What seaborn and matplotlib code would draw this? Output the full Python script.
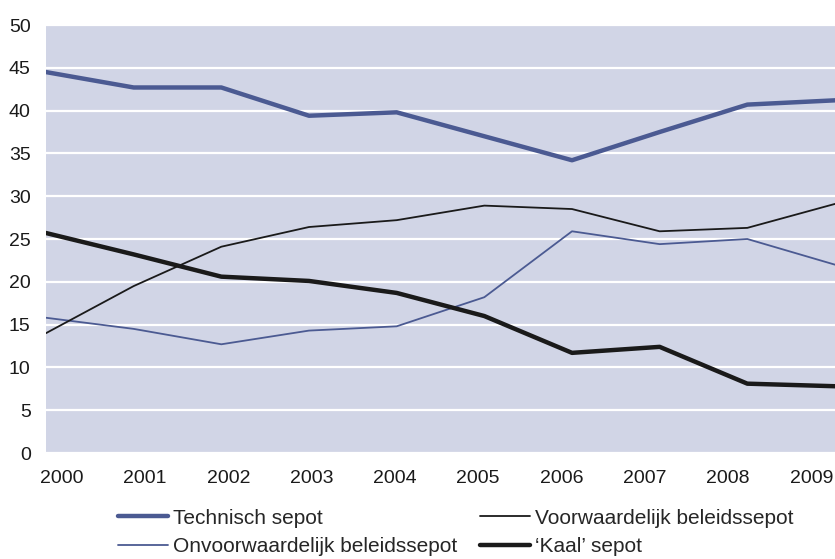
import numpy as np
import pandas as pd
import matplotlib
matplotlib.use("Agg")
import matplotlib.pyplot as plt
import seaborn as sns

years = [2000, 2001, 2002, 2003, 2004, 2005, 2006, 2007, 2008, 2009]
technisch = [44.5, 42.7, 42.7, 39.4, 39.8, 37.0, 34.2, 37.5, 40.7, 41.2]
voorwaardelijk = [14.0, 19.5, 24.1, 26.4, 27.2, 28.9, 28.5, 25.9, 26.3, 29.1]
onvoorwaardelijk = [15.8, 14.5, 12.7, 14.3, 14.8, 18.2, 25.9, 24.4, 25.0, 22.0]
kaal = [25.7, 23.2, 20.6, 20.1, 18.7, 16.0, 11.7, 12.4, 8.1, 7.8]

blue = "#4b5a92"
bg = "#d1d5e6"

df = pd.DataFrame({
    "jaar": years,
    "Technisch sepot": technisch,
    "Onvoorwaardelijk beleidssepot": onvoorwaardelijk,
    "Voorwaardelijk beleidssepot": voorwaardelijk,
    "'Kaal' sepot": kaal,
})

sns.set_style("white", {"axes.facecolor": bg})
plt.rcParams["font.family"] = ["Liberation Sans", "DejaVu Sans"]

fig = plt.figure(figsize=(8.35, 5.59), dpi=100)
ax = fig.add_axes([46 / 835, 106 / 559, 1 - 46 / 835, 428 / 559])

## lines ##
sns.lineplot(data=df, x="jaar", y="Technisch sepot", ax=ax, color=blue, linewidth=3.2,
             label="Technisch sepot")
sns.lineplot(data=df, x="jaar", y="Onvoorwaardelijk beleidssepot", ax=ax, color=blue,
             linewidth=1.3, label="Onvoorwaardelijk beleidssepot")
sns.lineplot(data=df, x="jaar", y="Voorwaardelijk beleidssepot", ax=ax, color="#1a1a1a",
             linewidth=1.3, label="Voorwaardelijk beleidssepot")
sns.lineplot(data=df, x="jaar", y="'Kaal' sepot", ax=ax, color="#1a1a1a", linewidth=3.2,
             label="\u2018Kaal\u2019 sepot")

ax.set_xlim(2000, 2009)
ax.set_ylim(0, 50)
ax.set_yticks(range(0, 51, 5))
ax.yaxis.grid(True, color="white", linewidth=1.6)
ax.set_axisbelow(True)
ax.set_xticks(np.array(years) + 0.18 - 0.05 * np.arange(len(years)))
ax.set_xticklabels([str(y) for y in years])
ax.tick_params(axis="both", length=0, labelsize=14, colors="#1a1a1a")
ax.tick_params(axis="y", pad=11)
ax.tick_params(axis="x", pad=12)
ax.set_xlabel("")
ax.set_ylabel("")
sns.despine(ax=ax, left=True, bottom=True)

## legend ##
handles, labels = ax.get_legend_handles_labels()
ax.get_legend().remove()
fig.legend(handles, labels, ncol=2, loc="upper left", bbox_to_anchor=(0.141, 0.09),
           frameon=False, fontsize=15, handlelength=2.4, handletextpad=0.25,
           columnspacing=1.1, labelspacing=0.45, borderpad=0, borderaxespad=0)

plt.savefig("out.png", dpi=100)
